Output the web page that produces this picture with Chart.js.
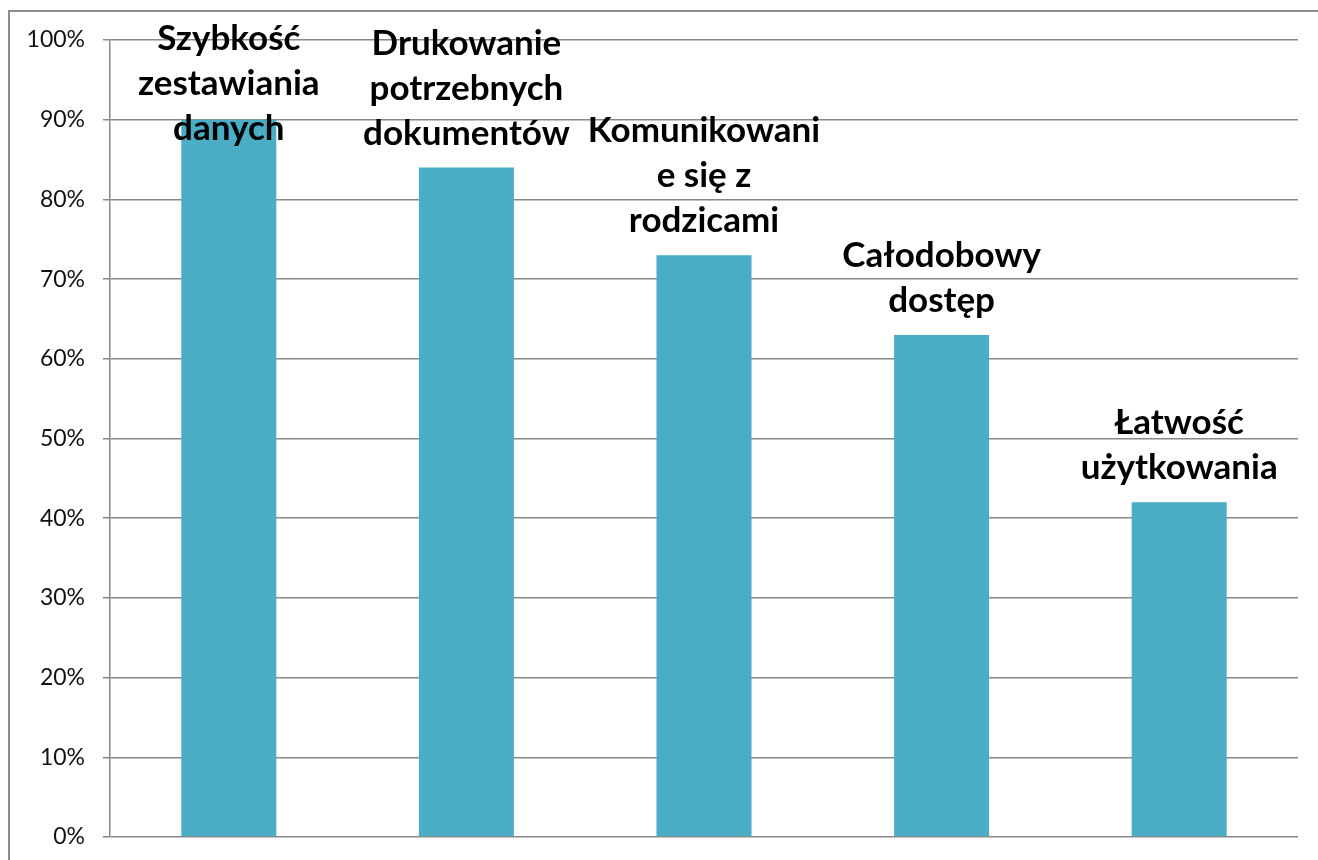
<!DOCTYPE html>
<html>
<head>
<meta charset="utf-8">
<script src="https://cdn.jsdelivr.net/npm/chart.js@4"></script>
<style>
  html, body { margin: 0; padding: 0; background: #fff; }
  #wrap { position: relative; width: 1318px; height: 860px; overflow: hidden; }
  #frame { position: absolute; left: 8px; top: 10px; width: 1320px; height: 860px;
           border-left: 2px solid #8c8c8c; border-top: 2px solid #8c8c8c; }
  #chart { position: absolute; left: 0; top: 0; }
</style>
</head>
<body>
<div id="wrap">
  <div id="frame"></div>
  <canvas id="chart" width="1318" height="860"></canvas>
</div>
<script>
// category labels, already split into lines as in the picture
const categories = [
  ['Szybkość', 'zestawiania', 'danych'],
  ['Drukowanie', 'potrzebnych', 'dokumentów'],
  ['Komunikowani', 'e się z', 'rodzicami'],
  ['Całodobowy', 'dostęp'],
  ['Łatwość', 'użytkowania']
];
const values = [90, 84, 73, 63, 42];   // percent
const yTicks = [0, 10, 20, 30, 40, 50, 60, 70, 80, 90, 100];

const barColor = '#4BACC6';
const gridColor = '#888888';

// labels sit above each bar, pushed down when they would leave the top
const barLabels = {
  id: 'barLabels',
  afterDatasetsDraw(chart) {
    const ctx = chart.ctx;
    const meta = chart.getDatasetMeta(0);
    const lineH = 45;
    ctx.save();
    ctx.font = 'bold 35px Lato, "DejaVu Sans", sans-serif';
    ctx.fillStyle = '#000';
    ctx.textAlign = 'center';
    ctx.textBaseline = 'alphabetic';
    meta.data.forEach((bar, i) => {
      const lines = categories[i];
      let first = bar.y - 23 - (lines.length - 1) * lineH;
      if (first < 50) first = 50;
      lines.forEach((ln, j) => ctx.fillText(ln, bar.x, first + j * lineH));
    });
    ctx.restore();
  }
};

new Chart(document.getElementById('chart'), {
  type: 'bar',
  data: {
    labels: categories.map(c => c.join(' ')),
    datasets: [{
      data: values,
      backgroundColor: barColor,
      borderWidth: 0,
      barPercentage: 0.4,
      categoryPercentage: 1.0
    }]
  },
  options: {
    responsive: false,
    animation: false,
    layout: { padding: { left: 0, top: 40, right: 20, bottom: 23 } },
    plugins: { legend: { display: false }, tooltip: { enabled: false } },
    scales: {
      x: { display: false },
      y: {
        min: 0,
        max: 100,
        afterBuildTicks(scale) { scale.ticks = yTicks.map(v => ({ value: v })); },
        afterFit(scale) {
          scale.width = 110;
          scale.paddingTop = 0;
          scale.paddingBottom = 0;
        },
        grid: { color: gridColor, lineWidth: 1.5, drawTicks: true, tickLength: 7, tickColor: gridColor },
        border: { display: true, color: gridColor, width: 1.5 },
        ticks: {
          padding: 18,
          color: '#111',
          font: { family: 'Lato, "DejaVu Sans", sans-serif', size: 23 },
          callback: v => v + '%'
        }
      }
    }
  },
  plugins: [barLabels]
});
</script>
</body>
</html>
